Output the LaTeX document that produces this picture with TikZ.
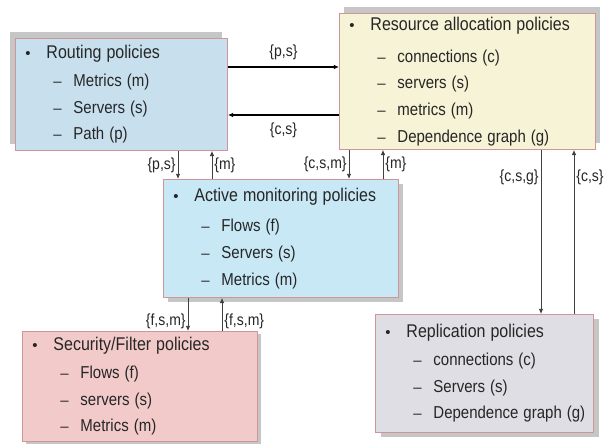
\documentclass[tikz,border=0pt]{standalone}
\usepackage{fontspec}
\usepackage{graphicx}
\setmainfont{Liberation Sans}
\usetikzlibrary{arrows.meta,positioning,shadows}
\definecolor{rimred}{RGB}{205,150,152}
\definecolor{routingblue}{RGB}{200,224,238}
\definecolor{resyellow}{RGB}{246,243,214}
\definecolor{activeblue}{RGB}{200,232,246}
\definecolor{secpink}{RGB}{242,202,202}
\definecolor{replgray}{RGB}{222,222,228}
\newcommand{\tall}[1]{\scalebox{1}[1.15]{#1}}
\newcommand{\hd}[1]{\makebox[21pt][l]{\textbullet}\tall{\fontsize{16}{20}\selectfont #1}}
\newcommand{\itm}[1]{\mbox{\hspace*{28pt}\makebox[20pt][l]{--}\tall{#1}}}
\tikzset{%
  >={Latex[width=1.6mm,length=1.8mm]},
  % Specifications for style of nodes:
        policy/.style = {rectangle, draw=rimred, line width=0.9pt, anchor=north west,
                         align=left, inner xsep=10pt, inner ysep=0pt, text=black!85,
                         font=\fontsize{15}{26.7}\selectfont},
       routing/.style = {policy, fill=routingblue, minimum width=212pt, minimum height=112pt,
                         text width=192pt,
                         drop shadow={shadow xshift=-5pt, shadow yshift=6pt, fill=gray!45, opacity=1}},
      resource/.style = {policy, fill=resyellow, minimum width=256pt, minimum height=136pt,
                         text width=236pt,
                         drop shadow={shadow xshift=5pt, shadow yshift=6pt, fill=gray!45, opacity=1}},
        active/.style = {policy, fill=activeblue, minimum width=235pt, minimum height=118pt,
                         text width=215pt,
                         drop shadow={shadow xshift=5pt, shadow yshift=-5pt, fill=gray!45, opacity=1}},
      security/.style = {policy, fill=secpink, minimum width=235pt, minimum height=110pt,
                         text width=215pt,
                         drop shadow={shadow xshift=4pt, shadow yshift=-3pt, fill=gray!45, opacity=1}},
   replication/.style = {policy, fill=replgray, minimum width=218pt, minimum height=118pt,
                         text width=198pt,
                         drop shadow={shadow xshift=6pt, shadow yshift=-5pt, fill=gray!45, opacity=1}},
          flow/.style = {->, draw=black!75, line width=0.8pt},
         bflow/.style = {->, draw=black, line width=1.6pt},
         label/.style = {font=\fontsize{14}{16}\selectfont, text=black!85, inner sep=2pt},
}

\begin{document}
\begin{tikzpicture}[x=1pt, y=-1pt]
    \useasboundingbox[fill=white] (0,0) rectangle (608,444);

    \node (routing) [routing] at (15,38)
        {\hd{Routing policies}\\[1pt] \itm{Metrics (m)}\\ \itm{Servers (s)}\\ \itm{Path (p)}};
    \node (resource) [resource] at (339,13)
        {\hd{Resource allocation policies}\\[5pt] \itm{connections (c)}\\ \itm{servers (s)}\\ \itm{metrics (m)}\\ \itm{Dependence graph (g)}};
    \node (active) [active] at (163,179)
        {\hd{Active monitoring policies}\\[4pt] \itm{Flows (f)}\\ \itm{Servers (s)}\\ \itm{Metrics (m)}};
    \node (security) [security] at (22,331)
        {\hd{Security/Filter policies}\\[1pt] \itm{Flows (f)}\\ \itm{servers (s)}\\ \itm{Metrics (m)}};
    \node (replication) [replication] at (375,314)
        {\hd{Replication policies}\\[1pt] \itm{connections (c)}\\ \itm{Servers (s)}\\ \itm{Dependence graph (g)}};

    % x positions of the vertical links
    \coordinate (ra) at (178,0);
    \coordinate (ar) at (212,0);
    \coordinate (sa) at (349,0);
    \coordinate (as) at (383,0);
    \coordinate (sp) at (541,0);
    \coordinate (ps) at (574,0);
    \coordinate (ay) at (188,0);
    \coordinate (ya) at (222,0);
    \coordinate (top) at (0,67);
    \coordinate (bot) at (0,115);

    \draw [bflow] (routing.east |- top) -- (resource.west |- top) node [label, midway, above=4pt] {\tall{\{p,s\}}};
    \draw [bflow] (resource.west |- bot) -- (routing.east |- bot) node [label, midway, below=5pt] {\tall{\{c,s\}}};

    \draw [flow] (ra |- routing.south) -- (ra |- active.north) node [label, midway, left] {\tall{\{p,s\}}};
    \draw [flow] (ar |- active.north) -- (ar |- routing.south) node [label, midway, right] {\tall{\{m\}}};
    \draw [flow] (sa |- resource.south) -- (sa |- active.north) node [label, midway, left] {\tall{\{c,s,m\}}};
    \draw [flow] (as |- active.north) -- (as |- resource.south) node [label, midway, right] {\tall{\{m\}}};
    \draw [flow] (sp |- resource.south) -- (sp |- replication.north) node [label, pos=0.17, left] {\tall{\{c,s,g\}}};
    \draw [flow] (ps |- replication.north) -- (ps |- resource.south) node [label, pos=0.83, right] {\tall{\{c,s\}}};
    \draw [flow] (ay |- active.south) -- (ay |- security.north) node [label, pos=0.7, left] {\tall{\{f,s,m\}}};
    \draw [flow] (ya |- security.north) -- (ya |- active.south) node [label, pos=0.3, right] {\tall{\{f,s,m\}}};
\end{tikzpicture}
\end{document}
